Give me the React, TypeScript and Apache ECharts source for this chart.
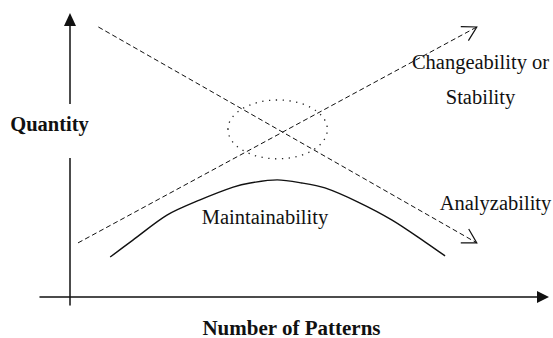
import React, { useEffect, useRef } from "react";
import * as echarts from "echarts";

// Axis titles
const xAxisName = "Number of Patterns";
const yAxisName = "Quantity";

// Maintainability curve (x = number of patterns, y = quantity)
const maintainabilityX = [8.5, 13.3, 20.5, 27.5, 34.5, 38.1, 43.8, 49.0, 53.9, 60.9, 68.1, 75.1, 79.3];
const maintainabilityY = [14.4, 20.5, 29.5, 35.0, 39.6, 41.1, 42.2, 41.1, 39.3, 34.2, 27.7, 19.8, 14.8];

// Trend arrows: [xStart, yStart, xEnd, yEnd]
const analyzabilityTrend = [6, 97.3, 86, 19.5];
const changeabilityTrend = [1.7, 19.5, 86, 97.3];

// Dotted highlight around the crossing: [cx, cy, rx, ry]
const crossingHighlight = [43.9, 60.4, 10.5, 10.6];

// Annotation texts
const changeabilityLabel = "Changeability or\nStability";
const analyzabilityLabel = "Analyzability";
const maintainabilityLabel = "Maintainability";

const SERIF = "Liberation Serif, DejaVu Serif, serif";
const INK = "#111";

export default function App() {
  const ref = useRef<HTMLDivElement | null>(null);

  useEffect(() => {
    if (!ref.current) return;
    const chart = echarts.init(ref.current, undefined, { renderer: "svg" });

    const arrowItem = (params: any, api: any) => {
      const p1 = api.coord([api.value(0), api.value(1)]);
      const p2 = api.coord([api.value(2), api.value(3)]);
      const ang = Math.atan2(p2[1] - p1[1], p2[0] - p1[0]);
      const L = 16;
      const spread = Math.PI / 6;
      const a1 = [p2[0] - L * Math.cos(ang - spread), p2[1] - L * Math.sin(ang - spread)];
      const a2 = [p2[0] - L * Math.cos(ang + spread), p2[1] - L * Math.sin(ang + spread)];
      return {
        type: "group",
        children: [
          {
            type: "line",
            shape: { x1: p1[0], y1: p1[1], x2: p2[0], y2: p2[1] },
            style: { stroke: INK, lineWidth: 1, lineDash: [5, 3], fill: null },
          },
          {
            type: "polyline",
            shape: { points: [a1, p2, a2] },
            style: { stroke: INK, lineWidth: 1.2, fill: null },
          },
        ],
      };
    };

    const ellipseItem = (params: any, api: any) => {
      const c = api.coord([api.value(0), api.value(1)]);
      const s = api.size([api.value(2), api.value(3)], [api.value(0), api.value(1)]);
      return {
        type: "ellipse",
        shape: { cx: c[0], cy: c[1], rx: s[0], ry: s[1] },
        style: { fill: null, stroke: "#222", lineWidth: 1.3, lineDash: [1.3, 5.5] },
      };
    };

    chart.setOption({
      animation: false,
      backgroundColor: "#ffffff",
      grid: { left: 40, right: 10, top: 19.5, bottom: 33, containLabel: false, outerBoundsMode: "none" },
      xAxis: {
        type: "value",
        min: -6.34,
        max: 100,
        name: xAxisName,
        nameLocation: "middle",
        nameGap: 12,
        nameTextStyle: { fontFamily: SERIF, fontWeight: "bold", fontSize: 21, color: INK, verticalAlign: "top" },
        axisLine: {
          onZero: true,
          symbol: ["none", "triangle"],
          symbolSize: [12, 12],
          lineStyle: { color: INK, width: 1.5 },
        },
        axisTick: { show: false },
        axisLabel: { show: false },
        splitLine: { show: false },
      },
      yAxis: {
        type: "value",
        min: -2.883,
        max: 100,
        axisLine: {
          onZero: true,
          symbol: ["none", "triangle"],
          symbolSize: [12, 13],
          lineStyle: { color: INK, width: 1.5 },
        },
        axisTick: { show: false },
        axisLabel: { show: false },
        splitLine: { show: false },
      },
      series: [
        {
          name: "Maintainability",
          type: "line",
          data: maintainabilityX.map((x, i) => [x, maintainabilityY[i]]),
          smooth: 0.3,
          showSymbol: false,
          lineStyle: { color: INK, width: 1.4 },
          silent: true,
        },
        {
          name: "Analyzability",
          type: "custom",
          renderItem: arrowItem,
          encode: { x: [0, 2], y: [1, 3] },
          data: [analyzabilityTrend],
          silent: true,
        },
        {
          name: "Changeability",
          type: "custom",
          renderItem: arrowItem,
          encode: { x: [0, 2], y: [1, 3] },
          data: [changeabilityTrend],
          silent: true,
        },
        {
          name: "Crossing",
          type: "custom",
          renderItem: ellipseItem,
          encode: { x: 0, y: 1 },
          data: [crossingHighlight],
          silent: true,
        },
      ],
      graphic: [
        {
          type: "rect",
          z: 100,
          shape: { x: 62, y: 104, width: 16, height: 54 },
          style: { fill: "#ffffff" },
        },
        {
          type: "text",
          z: 101,
          x: 49.5,
          y: 124,
          style: {
            text: yAxisName,
            fontFamily: SERIF,
            fontWeight: "bold",
            fontSize: 20.5,
            fill: INK,
            align: "center",
            verticalAlign: "middle",
          },
        },
        {
          type: "text",
          z: 101,
          x: 480.5,
          y: 79.5,
          style: {
            text: changeabilityLabel,
            fontFamily: SERIF,
            fontSize: 20.5,
            lineHeight: 35,
            fill: INK,
            align: "center",
            verticalAlign: "middle",
          },
        },
        {
          type: "text",
          z: 101,
          x: 495.5,
          y: 203,
          style: {
            text: analyzabilityLabel,
            fontFamily: SERIF,
            fontSize: 20.5,
            fill: INK,
            align: "center",
            verticalAlign: "middle",
          },
        },
        {
          type: "text",
          z: 101,
          x: 265,
          y: 217,
          style: {
            text: maintainabilityLabel,
            fontFamily: SERIF,
            fontSize: 20.5,
            fill: INK,
            align: "center",
            verticalAlign: "middle",
          },
        },
      ],
    });

    return () => {
      chart.dispose();
    };
  }, []);

  return (
    <div
      ref={ref}
      style={{ position: "fixed", left: 0, top: 0, width: 553, height: 338, background: "#fff" }}
    />
  );
}
